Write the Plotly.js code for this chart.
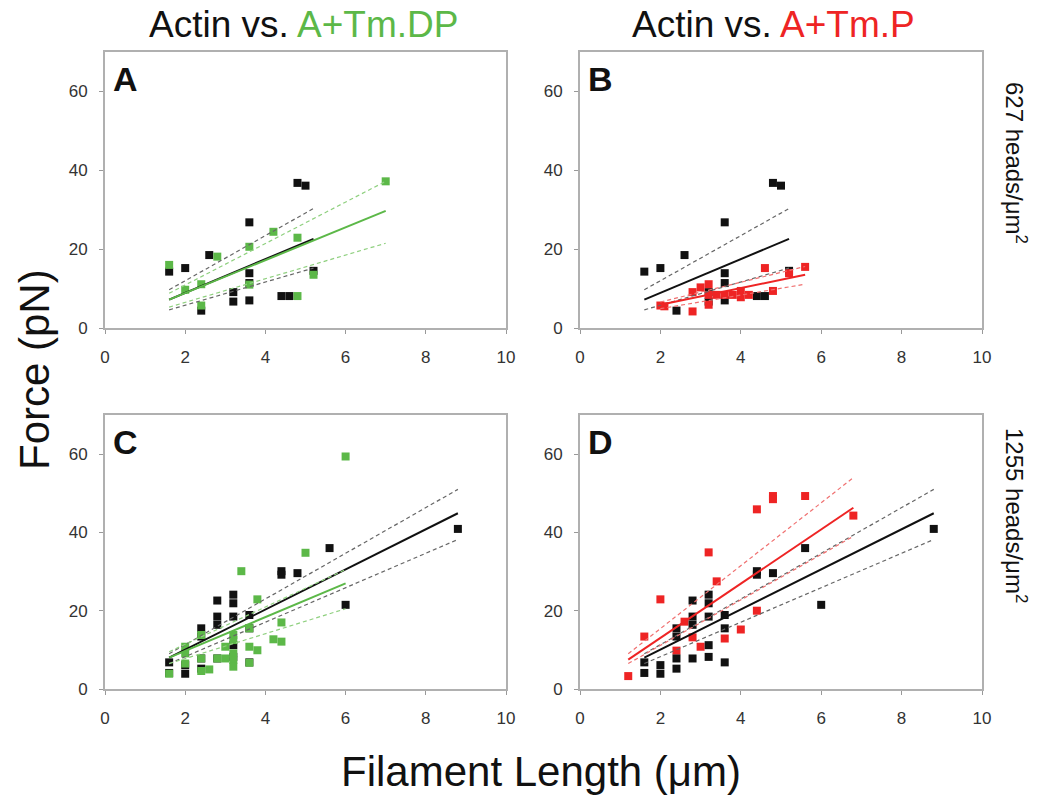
<!DOCTYPE html>
<html>
<head>
<meta charset="utf-8">
<script src="https://cdn.plot.ly/plotly-3.0.1.min.js"></script>
<style>html,body{margin:0;padding:0;background:#fff;}#chart{width:1050px;height:809px;}</style>
</head>
<body>
<div id="chart"></div>
<script>
// ---------- data ----------
const xTicks = [0, 2, 4, 6, 8, 10];
const yTicks = [0, 20, 40, 60];
const panelLetters = ["A", "B", "C", "D"];
const columnTitles = ["Actin vs. ", "A+Tm.DP", "A+Tm.P"];
const rowLabels = ["627 heads/\u03bcm<sup>2</sup>", "1255 heads/\u03bcm<sup>2</sup>"];

// 627 heads/um2 : actin
const actin627X = [1.6, 2.0, 2.6, 2.4, 3.2, 3.2, 3.6, 3.6, 3.6, 3.6, 4.4, 4.6, 4.8, 5.0, 5.2];
const actin627Y = [14.3, 15.2, 18.5, 4.4, 9.1, 6.7, 26.8, 13.9, 11.4, 7.0, 8.1, 8.1, 36.8, 36.1, 14.5];
// 627 : A+Tm.DP
const dp627X = [1.6, 2.0, 2.4, 2.4, 2.8, 3.6, 3.6, 4.2, 4.8, 4.8, 5.2, 7.0];
const dp627Y = [16.0, 9.7, 11.1, 5.7, 18.1, 20.6, 11.0, 24.4, 22.9, 8.1, 13.5, 37.2];
// 627 : A+Tm.P
const p627X = [2.0, 2.1, 2.8, 2.8, 3.0, 3.2, 3.2, 3.2, 3.4, 3.6, 3.8, 4.0, 4.0, 4.2, 4.6, 4.8, 5.2, 5.6];
const p627Y = [5.7, 5.5, 4.2, 9.1, 10.3, 11.1, 5.9, 8.4, 8.4, 8.4, 8.4, 9.4, 7.8, 8.4, 15.2, 9.4, 13.9, 15.5];

// 1255 heads/um2 : actin
const actin1255X = [1.6, 1.6, 2.0, 2.0, 2.4, 2.4, 2.4, 2.4, 2.8, 2.8, 2.8, 2.8, 3.2, 3.2, 3.2, 3.2, 3.2, 3.6, 3.6, 3.6, 4.4, 4.4, 4.8, 5.6, 6.0, 8.8];
const actin1255Y = [6.8, 4.1, 6.1, 3.9, 15.5, 13.4, 7.8, 5.2, 22.6, 18.5, 16.4, 7.8, 24.1, 21.9, 18.5, 11.2, 8.2, 18.9, 15.5, 6.8, 30.1, 29.2, 29.6, 36.0, 21.5, 40.9];
// 1255 : A+Tm.DP
const dp1255X = [1.6, 2.0, 2.0, 2.0, 2.4, 2.4, 2.4, 2.6, 2.8, 3.0, 3.0, 3.2, 3.2, 3.2, 3.2, 3.2, 3.4, 3.6, 3.6, 3.6, 3.8, 3.8, 4.2, 4.4, 4.4, 5.0, 6.0];
const dp1255Y = [3.9, 10.8, 9.1, 6.5, 13.8, 7.8, 4.6, 5.0, 7.8, 7.8, 10.8, 13.8, 12.5, 9.1, 7.4, 5.7, 30.1, 15.5, 10.8, 6.7, 22.9, 9.9, 12.7, 17.0, 12.1, 34.8, 59.4];
// 1255 : A+Tm.P
const p1255X = [1.2, 1.6, 2.0, 2.4, 2.6, 2.8, 3.0, 3.2, 3.4, 3.6, 4.0, 4.4, 4.4, 4.8, 4.8, 5.6, 6.8];
const p1255Y = [3.3, 13.4, 22.9, 9.8, 17.2, 13.2, 10.8, 34.9, 27.5, 12.9, 15.2, 45.9, 20.0, 49.3, 48.5, 49.3, 44.3];

// regression lines with confidence bands (end points)
const fitActin627X = [1.6, 5.2];
const fitActin627 = [7.2, 22.6], fitActin627Hi = [9.7, 30.3], fitActin627Lo = [4.6, 15.2];
const fitDp627X = [1.6, 7.0];
const fitDp627 = [7.2, 29.7], fitDp627Hi = [8.8, 37.2], fitDp627Lo = [5.3, 21.5];
const fitP627X = [2.0, 5.6];
const fitP627 = [5.9, 13.5], fitP627Hi = [6.6, 15.6], fitP627Lo = [4.9, 11.1];
const fitActin1255X = [1.6, 8.8];
const fitActin1255 = [8.0, 44.9], fitActin1255Hi = [9.0, 51.0], fitActin1255Lo = [6.5, 38.2];
const fitDp1255X = [1.6, 6.0];
const fitDp1255 = [8.0, 27.0], fitDp1255Hi = [9.5, 30.5], fitDp1255Lo = [6.5, 20.5];
const fitP1255X = [1.2, 6.8];
const fitP1255 = [7.5, 46.3], fitP1255Hi = [9.0, 54.0], fitP1255Lo = [6.5, 39.0];

// ---------- styling ----------
const BLACK = '#111111', GREEN = '#5cb848', RED = '#ee2424';
const BLACK_D = '#666666', GREEN_D = '#8fd07f', RED_D = '#f07070';
const FONT = 'Liberation Sans, Arial, Helvetica, sans-serif';
const W = 1050, H = 809;
const px = v => v / W, py = v => 1 - v / H;

function pts(x, y, color, xa, ya) {
  return {x: x, y: y, xaxis: xa, yaxis: ya, type: 'scatter', mode: 'markers',
          marker: {symbol: 'square', size: 8, color: color, line: {width: 0}},
          hoverinfo: 'x+y', showlegend: false};
}
function line(x, y, color, width, dash, xa, ya) {
  return {x: x, y: y, xaxis: xa, yaxis: ya, type: 'scatter', mode: 'lines',
          line: {color: color, width: width, dash: dash}, hoverinfo: 'skip', showlegend: false};
}
function fitSet(x, mid, hi, lo, c, cd, xa, ya) {
  return [line(x, hi, cd, 1.2, '4px,3px', xa, ya), line(x, lo, cd, 1.2, '4px,3px', xa, ya),
          line(x, mid, c, 2, 'solid', xa, ya)];
}

const traces = [
  // A
  pts(actin627X, actin627Y, BLACK, 'x', 'y'),
  pts(dp627X, dp627Y, GREEN, 'x', 'y'),
  ...fitSet(fitActin627X, fitActin627, fitActin627Hi, fitActin627Lo, BLACK, BLACK_D, 'x', 'y'),
  ...fitSet(fitDp627X, fitDp627, fitDp627Hi, fitDp627Lo, GREEN, GREEN_D, 'x', 'y'),
  // B
  pts(actin627X, actin627Y, BLACK, 'x2', 'y2'),
  pts(p627X, p627Y, RED, 'x2', 'y2'),
  ...fitSet(fitActin627X, fitActin627, fitActin627Hi, fitActin627Lo, BLACK, BLACK_D, 'x2', 'y2'),
  ...fitSet(fitP627X, fitP627, fitP627Hi, fitP627Lo, RED, RED_D, 'x2', 'y2'),
  // C
  pts(actin1255X, actin1255Y, BLACK, 'x3', 'y3'),
  pts(dp1255X, dp1255Y, GREEN, 'x3', 'y3'),
  ...fitSet(fitActin1255X, fitActin1255, fitActin1255Hi, fitActin1255Lo, BLACK, BLACK_D, 'x3', 'y3'),
  ...fitSet(fitDp1255X, fitDp1255, fitDp1255Hi, fitDp1255Lo, GREEN, GREEN_D, 'x3', 'y3'),
  // D
  pts(p1255X, p1255Y, RED, 'x4', 'y4'),
  pts(actin1255X, actin1255Y, BLACK, 'x4', 'y4'),
  ...fitSet(fitActin1255X, fitActin1255, fitActin1255Hi, fitActin1255Lo, BLACK, BLACK_D, 'x4', 'y4'),
  ...fitSet(fitP1255X, fitP1255, fitP1255Hi, fitP1255Lo, RED, RED_D, 'x4', 'y4'),
];

function xAxis(domain, anchor) {
  return {domain: domain, anchor: anchor, range: [0, 10], tickvals: xTicks, ticks: 'outside',
          ticklen: 4, tickwidth: 1, tickcolor: '#999', showline: true, linecolor: '#b0b0b0',
          linewidth: 2, mirror: true, showgrid: false, zeroline: false, ticklabelstandoff: 9,
          tickfont: {family: FONT, size: 17, color: '#333'}, fixedrange: true};
}
function yAxis(domain, anchor) {
  return {domain: domain, anchor: anchor, range: [0, 70], tickvals: yTicks, ticks: 'outside',
          ticklen: 4, tickwidth: 1, tickcolor: '#999', showline: true, linecolor: '#b0b0b0',
          linewidth: 2, mirror: true, showgrid: false, zeroline: false, ticklabelstandoff: 8,
          tickfont: {family: FONT, size: 17, color: '#333'}, fixedrange: true};
}
const colL = [px(105), px(506)], colR = [px(580), px(982)];
const rowT = [py(328), py(52)], rowB = [py(689), py(415)];

const ann = [];
function text(t, x, y, size, opts) {
  ann.push(Object.assign({text: t, xref: 'paper', yref: 'paper', x: x, y: y, showarrow: false,
    font: {family: FONT, size: size, color: '#111'}, xanchor: 'center', yanchor: 'middle'}, opts || {}));
}
text(columnTitles[0] + '<span style="color:' + GREEN + '">' + columnTitles[1] + '</span>', px(303), py(25), 37);
text(columnTitles[0] + '<span style="color:' + RED + '">' + columnTitles[2] + '</span>', px(773), py(25), 37);
text(rowLabels[0], px(1016), py(163), 24, {textangle: 90});
text(rowLabels[1], px(1016), py(515), 24, {textangle: 90});
text('Force (pN)', px(34), py(370), 42, {textangle: -90});
text('Filament Length (\u03bcm)', px(541), py(771), 42);
const letterPos = [[111, 58], [586, 58], [111, 421], [586, 421]];
panelLetters.forEach((L, i) => {
  text('<b>' + L + '</b>', px(letterPos[i][0]), py(letterPos[i][1]), 34, {xanchor: 'left', yanchor: 'top'});
});

const layout = {
  width: W, height: H, margin: {l: 0, r: 0, t: 0, b: 0},
  paper_bgcolor: '#fff', plot_bgcolor: '#fff', showlegend: false,
  font: {family: FONT},
  xaxis: xAxis(colL, 'y'), yaxis: yAxis(rowT, 'x'),
  xaxis2: xAxis(colR, 'y2'), yaxis2: yAxis(rowT, 'x2'),
  xaxis3: xAxis(colL, 'y3'), yaxis3: yAxis(rowB, 'x3'),
  xaxis4: xAxis(colR, 'y4'), yaxis4: yAxis(rowB, 'x4'),
  annotations: ann
};
Plotly.newPlot('chart', traces, layout, {displayModeBar: false, staticPlot: true});
</script>
</body>
</html>
